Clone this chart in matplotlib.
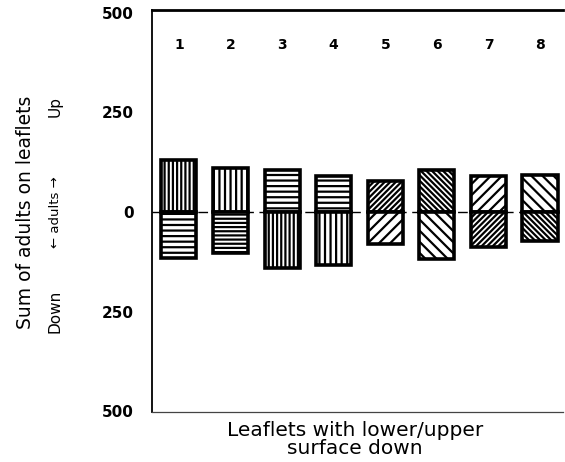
import matplotlib.pyplot as plt
import matplotlib as mpl

mpl.rcParams['hatch.linewidth'] = 1.6
mpl.rcParams['hatch.color'] = 'black'

# adults counted on the upper side (up) and lower side (down) of leaflets
treatments = ['1', '2', '3', '4', '5', '6', '7', '8']
adults_up = [130, 109, 106, 91, 77, 104, 91, 92]
adults_down = [115, 103, 140, 134, 80, 119, 88, 73]
hatch_up = ['||||', '|||', '---', '---', '//////', '\\\\\\\\\\\\', '///', '\\\\\\']
hatch_down = ['---', '----', '||||', '|||', '///', '\\\\\\', '//////', '\\\\\\\\\\\\']
yticks = [-500, -250, 0, 250, 500]

fig = plt.figure(figsize=(5.65, 4.62), dpi=100)
ax = fig.add_axes([0.269, 0.108, 0.7275, 0.870])

pos = list(range(1, len(treatments) + 1))
for x, u, d, hu, hd in zip(pos, adults_up, adults_down, hatch_up, hatch_down):
    ax.bar(x, u, width=0.68, bottom=0, facecolor='white', edgecolor='black',
           linewidth=2.6, hatch=hu, zorder=3)
    ax.bar(x, -d, width=0.68, bottom=0, facecolor='white', edgecolor='black',
           linewidth=2.6, hatch=hd, zorder=3)
    ax.text(x, 418, treatments[x - 1], ha='center', va='center',
            fontsize=10, fontweight='bold')

ax.axhline(0, color='black', lw=1.0, dashes=(7, 4), zorder=2)

ax.set_xlim(0.477, 8.446)
ax.set_ylim(-502, 506)
ax.set_xticks([])
ax.set_yticks(yticks)
ax.set_yticklabels([str(abs(t)) for t in yticks], fontsize=11, fontweight='bold')
ax.tick_params(axis='y', length=0, pad=13)

ax.spines['right'].set_visible(False)
ax.spines['top'].set_linewidth(2.0)
ax.spines['left'].set_linewidth(1.3)
ax.spines['bottom'].set_linewidth(0.9)
ax.spines['bottom'].set_color('#444444')

fig.text(0.046, 0.54, 'Sum of adults on leaflets', rotation=90,
         ha='center', va='center', fontsize=13.5)
fig.text(0.098, 0.77, 'Up', rotation=90, ha='center', va='center',
         fontsize=11)
fig.text(0.098, 0.54, '\u2190 adults \u2192', rotation=90, ha='center',
         va='center', fontsize=9.5)
fig.text(0.098, 0.325, 'Down', rotation=90, ha='center', va='center',
         fontsize=11)

fig.text(0.628, 0.048, 'Leaflets with lower/upper\nsurface down',
         ha='center', va='center', fontsize=14.5, linespacing=0.95,
         multialignment='center')

fig.savefig('out.png', dpi=100)
